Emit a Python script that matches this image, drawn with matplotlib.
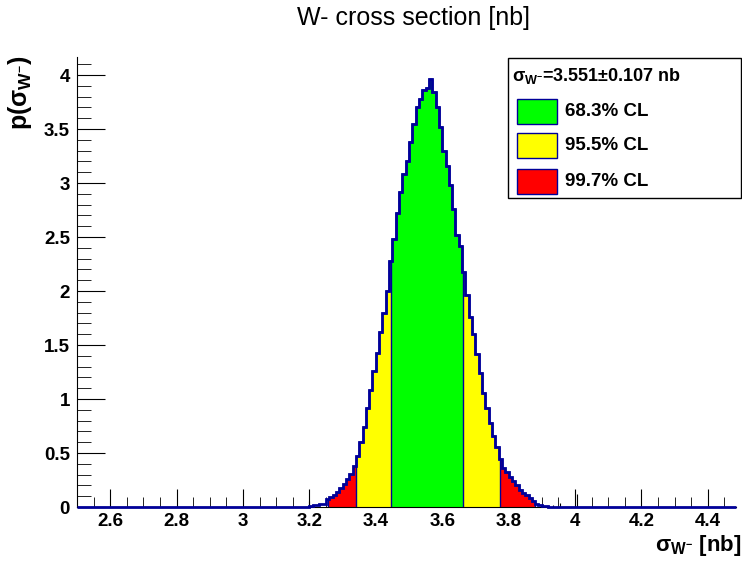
import numpy as np
import matplotlib
import matplotlib.pyplot as plt
from matplotlib.patches import Rectangle
from matplotlib.ticker import MultipleLocator, FuncFormatter

matplotlib.use('Agg')

plt.rcParams['font.family'] = ['Liberation Sans', 'DejaVu Sans']
plt.rcParams['font.weight'] = 'bold'
plt.rcParams['mathtext.fontset'] = 'custom'
plt.rcParams['mathtext.rm'] = 'Liberation Sans:bold'
plt.rcParams['mathtext.it'] = 'Liberation Sans'
plt.rcParams['mathtext.bf'] = 'Liberation Sans:bold'

# Posterior of the W- cross section (bins of 0.01 nb
# starting at 3.20 nb; everything outside is empty).
bin_start = 3.20
bin_width = 0.01
density = [
    0.01, 0.02, 0.02, 0.03, 0.03, 0.07, 0.09, 0.11, 0.14, 0.18,
    0.21, 0.26, 0.31, 0.38, 0.47, 0.60, 0.74, 0.92, 1.08, 1.26,
    1.43, 1.62, 1.80, 2.00, 2.28, 2.48, 2.72, 2.92, 3.08, 3.20,
    3.38, 3.55, 3.70, 3.78, 3.86, 3.88, 3.96, 3.84, 3.70, 3.52,
    3.30, 3.16, 2.98, 2.76, 2.52, 2.42, 2.18, 1.96, 1.76, 1.60,
    1.42, 1.24, 1.06, 0.92, 0.78, 0.66, 0.56, 0.44, 0.36, 0.32,
    0.28, 0.24, 0.20, 0.16, 0.13, 0.11, 0.08, 0.06, 0.03, 0.02,
    0.01, 0.01,
]
x_range = (2.5, 4.485)

# isolated entries of the raw histogram (thin black line)
spike_x = [3.200, 3.935, 3.955, 4.006]
spike_h = [0.06, 0.02, 0.04, 0.12]

# credibility intervals, innermost first
cl_labels = ['68.3% CL', '95.5% CL', '99.7% CL']
cl_lo = [3.447, 3.341, 3.256]
cl_hi = [3.663, 3.774, 3.880]
cl_colors = ['#00ff00', '#ffff00', '#ff0000']

mean, err = 3.551, 0.107

navy = '#000099'

dens = np.array(density)
edges = bin_start + bin_width * np.arange(len(dens) + 1)


def region(lo, hi):
    """Bins of the histogram clipped to [lo, hi]."""
    i0 = np.searchsorted(edges, lo, side='right') - 1
    i1 = np.searchsorted(edges, hi, side='left')
    return dens[i0:i1], np.clip(edges[i0:i1 + 1], lo, hi)


fig = plt.figure(figsize=(7.42, 5.63), dpi=100)
ax = fig.add_axes([77 / 742, 56 / 563, 659 / 742, 450 / 563])

ax.vlines(spike_x, 0, spike_h, color='black', lw=0.8, zorder=1)

# outer interval drawn first so the inner ones sit on top
for lo, hi, col in reversed(list(zip(cl_lo, cl_hi, cl_colors))):
    v, e = region(lo, hi)
    ax.stairs(v, e, fill=True, facecolor=col, edgecolor='none', lw=0,
              zorder=2)
    ax.stairs(v, e, baseline=0, color=navy, lw=1, zorder=3)

full_edges = np.concatenate([[x_range[0]], edges, [x_range[1]]])
full_vals = np.concatenate([[0], dens, [0]])
ax.stairs(full_vals, full_edges, baseline=None, color=navy, lw=2,
          zorder=4, clip_on=False)

ax.set_xlim(*x_range)
ax.set_ylim(0, 4.167)

ax.spines['right'].set_visible(False)
ax.spines['top'].set_visible(False)
ax.xaxis.set_ticks_position('bottom')
ax.yaxis.set_ticks_position('left')

ax.xaxis.set_major_locator(MultipleLocator(0.2))
ax.xaxis.set_minor_locator(MultipleLocator(0.05))
ax.yaxis.set_major_locator(MultipleLocator(0.5))
ax.yaxis.set_minor_locator(MultipleLocator(0.1))
fmt = FuncFormatter(lambda v, p: f'{v:g}')
ax.xaxis.set_major_formatter(fmt)
ax.yaxis.set_major_formatter(fmt)
ax.tick_params(axis='x', which='major', direction='in', length=13,
               labelsize=13.5, pad=4)
ax.tick_params(axis='x', which='minor', direction='in', length=7)
ax.tick_params(axis='y', which='major', direction='in', length=20,
               labelsize=13.5, pad=5)
ax.tick_params(axis='y', which='minor', direction='in', length=10)

fig.text(414 / 742, 1 - 18 / 563, 'W- cross section [nb]',
         ha='center', va='center', fontsize=18, fontweight='normal')
fig.text(20 / 742, 1 - 55 / 563, r'p($\sigma_{\mathrm{W}^{-}}$)',
         rotation=90, ha='center', va='top', fontsize=18)
fig.text(741 / 742, 1 - 546 / 563, r'$\sigma_{\mathrm{W}^{-}}$ [nb]',
         ha='right', va='center', fontsize=16)

# legend box
fig.add_artist(Rectangle((508 / 742, 1 - 198 / 563), 233 / 742, 140 / 563,
                         transform=fig.transFigure, facecolor='white',
                         edgecolor='black', lw=1, zorder=5))
fig.text(512 / 742, 1 - 76 / 563,
         r'$\sigma_{\mathrm{W}^{-}}$' + f'={mean:.3f}\u00b1{err:.3f} nb',
         ha='left', va='center', fontsize=13, zorder=6)
for i, (lab, col) in enumerate(zip(cl_labels, cl_colors)):
    yc = 111 + 35 * i
    fig.add_artist(Rectangle((517 / 742, 1 - (yc + 12.5) / 563), 40 / 742,
                             25 / 563, transform=fig.transFigure,
                             facecolor=col, edgecolor=navy, lw=1, zorder=6))
    fig.text(565 / 742, 1 - yc / 563, lab, ha='left', va='center',
             fontsize=13.5, zorder=6)

fig.savefig('out.png', dpi=100)
